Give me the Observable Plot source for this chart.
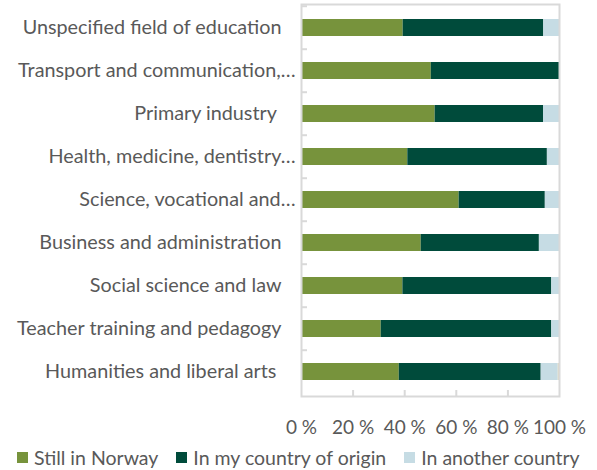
<!DOCTYPE html>
<html>
<head>
<meta charset="utf-8">
<script src="https://cdn.jsdelivr.net/npm/d3@7"></script>
<script src="https://cdn.jsdelivr.net/npm/@observablehq/plot@0.6"></script>
<style>
  html, body { margin: 0; padding: 0; background: #fff; }
  #chart { width: 597px; }
  .legend { display: flex; align-items: center; height: 25px; padding-left: 17px; white-space: nowrap;
    font-family: Lato, "Open Sans", sans-serif; font-size: 19.5px; color: #595959; }
  .legend .item { display: flex; align-items: center; margin-right: 18px; flex-shrink: 0; }
  .legend .sw { width: 11px; height: 11px; margin-right: 6px; flex-shrink: 0; }
  svg text { white-space: pre; }
</style>
</head>
<body>
<div id="chart"></div>
<script>
const categories = [
  "Unspecified field of education",
  "Transport and communication,…",
  "Primary industry ",
  "Health, medicine, dentistry…",
  "Science, vocational and…",
  "Business and administration",
  "Social science and law",
  "Teacher training and pedagogy",
  "Humanities and liberal arts "
];
const seriesNames = ["Still in Norway", "In my country of origin", "In another country", "Other"];
const stillInNorway   = [39.4, 50.3, 51.8, 41.2, 61.1, 46.4, 39.3, 30.9, 37.9];
const countryOfOrigin = [54.5, 49.7, 42.0, 54.1, 33.4, 45.8, 57.7, 66.1, 55.0];
const anotherCountry  = [6.1, 0.0, 6.2, 4.7, 5.5, 7.8, 3.0, 3.0, 6.6];
const other           = [0, 0, 0, 0, 0, 0, 0, 0, 0.5];
const xTicks = [0, 20, 40, 60, 80, 100];
const colors = ["#77933C", "#004B3B", "#C6DCE4", "#DDD9C3"];
const ellipsisLabels = categories.filter(c => c.endsWith("…"));
const plainLabels = categories.filter(c => !c.endsWith("…"));

const seriesValues = [stillInNorway, countryOfOrigin, anotherCountry, other];
const data = [];
categories.forEach((c, i) => {
  seriesNames.forEach((s, j) => data.push({field: c, series: s, value: seriesValues[j][i]}));
});

const height = 445, marginTop = 4, marginBottom = 49;
const step = (height - marginTop - marginBottom) / categories.length;
const font = 'Lato, "Open Sans", sans-serif';
const fs = 19.8;
const pct = d => d + " %";

const chart = Plot.plot({
  width: 597,
  height,
  marginLeft: 301,
  marginRight: 38,
  marginTop,
  marginBottom,
  style: {fontFamily: font, fontSize: fs + "px", color: "#595959", background: "#fff"},
  x: {domain: [0, 100], ticks: xTicks, tickFormat: pct, label: null},
  y: {domain: categories, paddingInner: 0.6, paddingOuter: 0.3, label: null},
  color: {domain: seriesNames, range: colors},
  marks: [
    Plot.barX(data, {x: "value", y: "field", fill: "series"}),
    Plot.frame({stroke: "#D9D9D9", strokeWidth: 2}),
    Plot.axisY({ticks: plainLabels, tickSize: 0, tickPadding: 20, label: null, fill: "#595959", fontSize: fs}),
    Plot.axisY({ticks: ellipsisLabels, tickSize: 0, tickPadding: 6, label: null, fill: "#595959", fontSize: fs}),
    Plot.axisY({tickSize: 6, insetLeft: 6, dy: -step / 2, stroke: "#D9D9D9", strokeWidth: 2, fill: "none", label: null}),
    Plot.axisX({ticks: [20, 40, 60, 80], tickSize: 6, dy: -6, stroke: "#D9D9D9", strokeWidth: 2, fill: "none", label: null}),
    Plot.axisX({ticks: xTicks, tickFormat: pct, tickSize: 0, tickPadding: 24, label: null, fill: "#595959", fontSize: 19})
  ]
});

document.getElementById("chart").appendChild(chart);

const legend = document.createElement("div");
legend.className = "legend";
seriesNames.slice(0, 3).forEach((s, i) => {
  const item = document.createElement("div");
  item.className = "item";
  const sw = document.createElement("span");
  sw.className = "sw";
  sw.style.background = colors[i];
  const t = document.createElement("span");
  t.textContent = s;
  item.append(sw, t);
  legend.appendChild(item);
});
document.getElementById("chart").appendChild(legend);
</script>
</body>
</html>
